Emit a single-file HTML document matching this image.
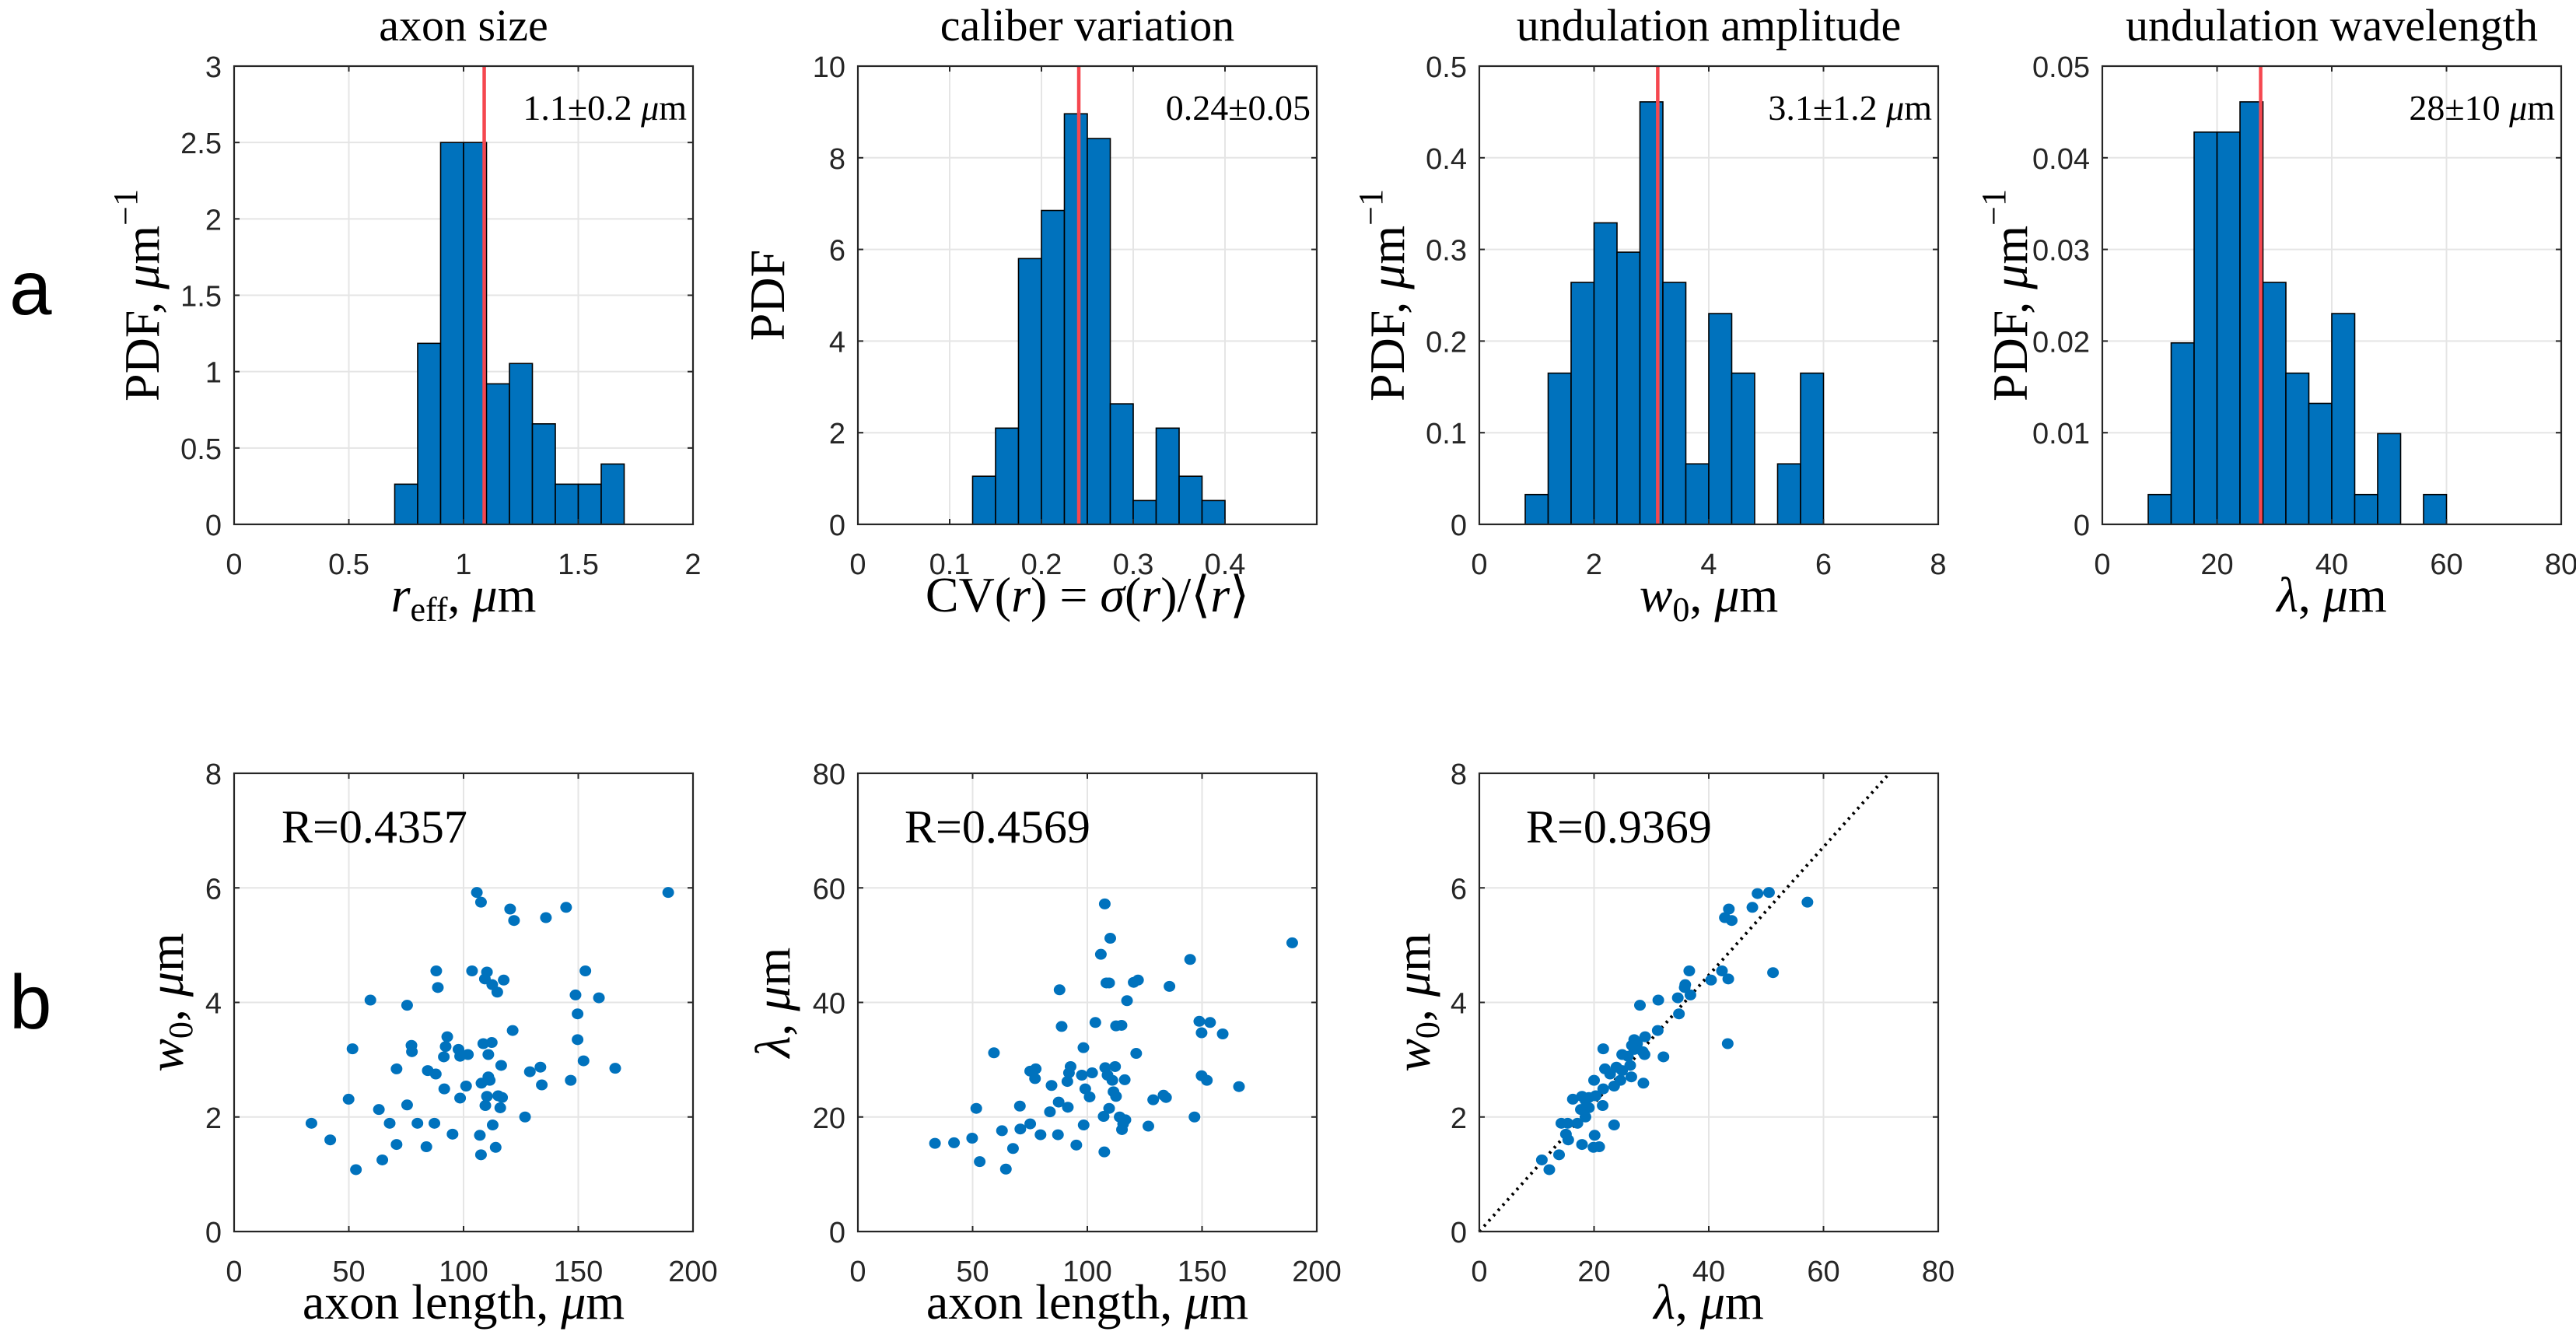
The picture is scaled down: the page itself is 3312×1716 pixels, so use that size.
<!DOCTYPE html>
<html>
<head>
<meta charset="utf-8">
<style>
  html, body { margin: 0; padding: 0; background: #ffffff; }
  svg { display: block; }
  .tick { font-family: "Liberation Sans", Arial, sans-serif; font-size: 38px; fill: #262626; }
  .serif { font-family: "Liberation Serif", "DejaVu Serif", serif; fill: #000; }
  .plabel { font-family: "Liberation Sans", Arial, sans-serif; font-size: 98px; fill: #000; }
</style>
</head>
<body>
<svg id="fig" xmlns="http://www.w3.org/2000/svg" width="3312" height="1716" viewBox="0 0 3312 1716">
  <rect x="0" y="0" width="3312" height="1716" fill="#ffffff"/>
  <text class="plabel" x="12" y="404">a</text>
  <text class="plabel" x="12" y="1322">b</text>
</svg>
<script>
// ---------- DATA ----------
const a1XTicks = [0, 0.5, 1, 1.5, 2];
const a1XTickLabels = ['0', '0.5', '1', '1.5', '2'];
const a1YTicks = [0, 0.5, 1, 1.5, 2, 2.5, 3];
const a1YTickLabels = ['0', '0.5', '1', '1.5', '2', '2.5', '3'];
const a1BinStart = 0.7;
const a1BinWidth = 0.1;
const a1Heights = [0.263, 1.185, 2.5, 2.5, 0.92, 1.053, 0.658, 0.263, 0.263, 0.395];
const a1Mean = 1.09;

const a2XTicks = [0, 0.1, 0.2, 0.3, 0.4];
const a2XTickLabels = ['0', '0.1', '0.2', '0.3', '0.4'];
const a2YTicks = [0, 2, 4, 6, 8, 10];
const a2YTickLabels = ['0', '2', '4', '6', '8', '10'];
const a2BinStart = 0.125;
const a2BinWidth = 0.025;
const a2Heights = [1.05, 2.1, 5.8, 6.85, 8.96, 8.42, 2.63, 0.52, 2.1, 1.05, 0.52];
const a2Mean = 0.2407;

const a3XTicks = [0, 2, 4, 6, 8];
const a3XTickLabels = ['0', '2', '4', '6', '8'];
const a3YTicks = [0, 0.1, 0.2, 0.3, 0.4, 0.5];
const a3YTickLabels = ['0', '0.1', '0.2', '0.3', '0.4', '0.5'];
const a3BinStart = 0.8;
const a3BinWidth = 0.4;
const a3Heights = [0.0325, 0.165, 0.264, 0.329, 0.297, 0.461, 0.264, 0.066, 0.230, 0.165, 0, 0.066, 0.165];
const a3Mean = 3.11;

const a4XTicks = [0, 20, 40, 60, 80];
const a4XTickLabels = ['0', '20', '40', '60', '80'];
const a4YTicks = [0, 0.01, 0.02, 0.03, 0.04, 0.05];
const a4YTickLabels = ['0', '0.01', '0.02', '0.03', '0.04', '0.05'];
const a4BinStart = 8;
const a4BinWidth = 4;
const a4Heights = [0.00325, 0.0198, 0.0428, 0.0428, 0.0461, 0.0264, 0.0165, 0.0132, 0.0230, 0.00325, 0.0099, 0, 0.00325];
const a4Mean = 27.6;

const b1XTicks = [0, 50, 100, 150, 200];
const b1XTickLabels = ['0', '50', '100', '150', '200'];
const b1YTicks = [0, 2, 4, 6, 8];
const b1YTickLabels = ['0', '2', '4', '6', '8'];
const b1Length = [105.8,107.6,120.3,122,135.9,144.7,189.2,88.1,103.7,110.2,109.3,112.5,114.7,117.5,88.8,153.1,59.4,75.4,148.8,159,149.7,121.4,51.6,77.3,77.5,92.9,92.2,91.4,97.8,98.5,101.9,108.6,112.3,110.8,149.7,152.3,116.4,133.5,128.9,166.1,70.8,84.4,87.9,110.8,111.4,107.8,134.1,146.7,101.1,91.6,49.9,98.5,110.2,115.1,116.8,109.5,116,75.4,63.1,126.8,33.7,67.8,79.9,87.3,112.7,95.2,107.1,41.9,70.8,83.8,114,107.6,64.6,53.1];
const b1W0 = [5.92,5.75,5.63,5.43,5.48,5.66,5.92,4.55,4.55,4.53,4.41,4.31,4.18,4.39,4.26,4.55,4.04,3.95,4.13,4.08,3.80,3.51,3.19,3.25,3.14,3.40,3.23,3.05,3.18,3.06,3.09,3.28,3.30,3.09,3.35,2.98,2.90,2.87,2.79,2.85,2.84,2.81,2.75,2.70,2.64,2.59,2.56,2.64,2.54,2.49,2.31,2.33,2.36,2.37,2.34,2.20,2.16,2.21,2.13,2.00,1.89,1.89,1.89,1.89,1.86,1.70,1.68,1.60,1.52,1.48,1.47,1.34,1.25,1.08];
const b1RText = 'R=0.4357';

const b2XTicks = [0, 50, 100, 150, 200];
const b2XTickLabels = ['0', '50', '100', '150', '200'];
const b2YTicks = [0, 20, 40, 60, 80];
const b2YTickLabels = ['0', '20', '40', '60', '80'];
const b2Length = [107.6,110,105.9,189.3,144.8,87.9,108.3,109.5,120.2,122.1,135.8,117.3,88.8,103.5,112.5,114.9,148.8,153.5,149.8,159,59.3,98.3,121.3,75.1,77.5,77.2,92.7,92,91.3,97.6,102.1,107.8,112.1,108.8,110.9,116.3,84.4,99.1,101,111.4,112.5,149.8,152.1,166.1,128.7,133.2,134.3,87.5,91.5,51.6,70.6,83.7,109.5,107.1,114.1,116.6,115.6,115.1,146.7,126.6,98.4,75.1,70.8,62.8,79.6,87.2,49.8,33.6,41.9,95.2,67.6,107.4,53.1,64.5];
const b2Lambda = [57.2,51.2,48.4,50.4,47.5,42.2,43.4,43.4,43.5,43.9,42.8,40.3,35.8,36.5,35.9,36.0,36.7,36.5,34.7,34.5,31.2,32.1,31.1,28.0,28.4,26.7,28.8,27.7,26.2,27.3,27.7,28.6,28.8,27.3,26.4,26.5,25.5,24.9,23.5,24.4,23.6,27.2,26.4,25.3,23.0,23.8,23.4,22.6,21.7,21.5,21.9,20.9,21.5,20.1,20.0,19.5,18.8,17.8,20.0,18.4,18.6,18.8,17.9,17.6,16.9,16.9,16.3,15.4,15.5,15.1,14.5,13.9,12.2,10.9];
const b2RText = 'R=0.4569';

const b3XTicks = [0, 20, 40, 60, 80];
const b3XTickLabels = ['0', '20', '40', '60', '80'];
const b3YTicks = [0, 2, 4, 6, 8];
const b3YTickLabels = ['0', '2', '4', '6', '8'];
const b3Lambda = [48.5,50.5,57.2,47.6,43.5,42.8,44,36.6,42.3,51.2,43.4,40.4,35.9,35.8,36.8,34.6,31.2,28,34.8,31.1,28.9,27,26.6,27.5,21.6,28.5,24.9,28.8,32.1,27,25.9,23.9,21.9,26.3,22.8,24.9,26.5,24.6,20,28.6,23.5,21.6,20.3,17.9,19.1,16.3,18.5,21.5,17.7,19.1,18.5,14.3,15.4,17.1,23.5,15.1,20.1,15.5,17.9,19.9,20.9,13.9,10.9,12.2,43.3];
const b3W0 = [5.90,5.92,5.75,5.66,5.63,5.48,5.43,4.55,4.55,4.52,4.41,4.39,4.31,4.26,4.13,4.08,4.04,3.95,3.80,3.51,3.40,3.35,3.25,3.28,3.19,3.14,3.09,3.09,3.05,3.18,3.06,2.87,2.84,2.90,2.75,2.81,2.70,2.64,2.64,2.59,2.54,2.49,2.37,2.36,2.34,2.31,2.29,2.20,2.13,2.16,2.00,1.89,1.89,1.89,1.86,1.70,1.68,1.60,1.52,1.47,1.48,1.34,1.25,1.08,3.28];
const b3FitSlope = 0.1119;
const b3RText = 'R=0.9369';

// ---------- DRAWING ----------
const SVGNS = 'http://www.w3.org/2000/svg';
const svg = document.getElementById('fig');
const PW = 590, PH = 589;
const BLUE = '#0072BD';
const RED = '#F5474F';
const AXC = '#262626';
const GRID = '#e5e5e5';

function mk(tag, attrs, parent) {
  const e = document.createElementNS(SVGNS, tag);
  for (const k in attrs) e.setAttribute(k, attrs[k]);
  (parent || svg).appendChild(e);
  return e;
}

function makeAxes(name, left, top, xmin, xmax, ymin, ymax, xTicks, xLabels, yTicks, yLabels, tickLabelY) {
  const g = mk('g', {});
  
  
  const sx = v => left + (v - xmin) / (xmax - xmin) * PW;
  const sy = v => top + PH - (v - ymin) / (ymax - ymin) * PH;
  xTicks.forEach(t => {
    const l = mk('line', { x1: sx(t), x2: sx(t), y1: top, y2: top + PH, stroke: GRID, 'stroke-width': 2 }, g);
    
    
  });
  yTicks.forEach(t => {
    const l = mk('line', { x1: left, x2: left + PW, y1: sy(t), y2: sy(t), stroke: GRID, 'stroke-width': 2 }, g);
    
    
  });
  const plot = mk('g', {}, g);
  
  
  const front = mk('g', {}, g);
  
  
  const box = mk('rect', { x: left, y: top, width: PW, height: PH, fill: 'none', stroke: AXC, 'stroke-width': 2.2 }, front);
  
  
  xTicks.forEach((t, i) => {
    mk('line', { x1: sx(t), x2: sx(t), y1: top + PH, y2: top + PH - 7, stroke: AXC, 'stroke-width': 2 }, front);
    mk('line', { x1: sx(t), x2: sx(t), y1: top, y2: top + 7, stroke: AXC, 'stroke-width': 2 }, front);
    const tx = mk('text', { x: sx(t), y: tickLabelY, 'text-anchor': 'middle', class: 'tick' }, front);
    tx.textContent = xLabels[i];
    
    
  });
  yTicks.forEach((t, i) => {
    mk('line', { x1: left, x2: left + 7, y1: sy(t), y2: sy(t), stroke: AXC, 'stroke-width': 2 }, front);
    mk('line', { x1: left + PW, x2: left + PW - 7, y1: sy(t), y2: sy(t), stroke: AXC, 'stroke-width': 2 }, front);
    const ty = mk('text', { x: left - 16, y: sy(t) + 14, 'text-anchor': 'end', class: 'tick' }, front);
    ty.textContent = yLabels[i];
    
    
  });
  return { sx, sy, plot, front, g };
}

function drawHist(ax, binStart, binWidth, heights, mean, top) {
  heights.forEach((h, i) => {
    if (h <= 0) return;
    const x0 = ax.sx(binStart + i * binWidth), x1 = ax.sx(binStart + (i + 1) * binWidth);
    const r = mk('rect', { x: x0, y: ax.sy(h), width: x1 - x0, height: ax.sy(0) - ax.sy(h), fill: BLUE, stroke: '#000', 'stroke-width': 1.6 }, ax.plot);
    
    
  });
  const m = mk('line', { x1: ax.sx(mean), x2: ax.sx(mean), y1: top, y2: top + PH, stroke: RED, 'stroke-width': 4.5 }, ax.plot);
  
  
}

function drawScatter(ax, xs, ys) {
  xs.forEach((x, i) => {
    const c = mk('ellipse', { cx: ax.sx(x), cy: ax.sy(ys[i]), rx: 7.5, ry: 7, fill: BLUE }, ax.plot);
    
    
  });
}

function textEl(name, attrs, html) {
  const t = mk('text', attrs);
  t.innerHTML = html;
  
  
  return t;
}

const colX = [301, 1103, 1902, 2703];
const topY = 85, botY = 994;
const topTickY = 738, botTickY = 1647;
const topXTitleY = 786, botXTitleY = 1695;

const titles = ['axon size', 'caliber variation', 'undulation amplitude', 'undulation wavelength'];
titles.forEach((s, i) => {
  textEl('panel-title', { x: colX[i] + PW / 2, y: 52, 'text-anchor': 'middle', class: 'serif', 'font-size': 58 }, s);
});

const MU = '<tspan font-style="italic">μ</tspan>m';

const ax1 = makeAxes('axon-size-histogram', colX[0], topY, 0, 2, 0, 3, a1XTicks, a1XTickLabels, a1YTicks, a1YTickLabels, topTickY);
drawHist(ax1, a1BinStart, a1BinWidth, a1Heights, a1Mean, topY);
textEl('mean-annotation', { x: colX[0] + PW - 8, y: 154, 'text-anchor': 'end', class: 'serif', 'font-size': 46 }, '1.1±0.2 ' + MU);
textEl('x-axis-title', { x: colX[0] + PW / 2, y: topXTitleY, 'text-anchor': 'middle', class: 'serif', 'font-size': 64 },
  '<tspan font-style="italic">r</tspan><tspan font-size="44" dy="12">eff</tspan><tspan dy="-12">, </tspan>' + MU);
textEl('y-axis-title', { x: 0, y: 0, 'text-anchor': 'middle', class: 'serif', 'font-size': 64, transform: `translate(${colX[0] - 97},${topY + PH / 2}) rotate(-90)` },
  'PDF, ' + MU + '<tspan font-size="44" dy="-28">−1</tspan>');

const ax2 = makeAxes('caliber-variation-histogram', colX[1], topY, 0, 0.5, 0, 10, a2XTicks, a2XTickLabels, a2YTicks, a2YTickLabels, topTickY);
drawHist(ax2, a2BinStart, a2BinWidth, a2Heights, a2Mean, topY);
textEl('mean-annotation', { x: colX[1] + PW - 8, y: 154, 'text-anchor': 'end', class: 'serif', 'font-size': 46 }, '0.24±0.05');
textEl('x-axis-title', { x: colX[1] + PW / 2, y: topXTitleY, 'text-anchor': 'middle', class: 'serif', 'font-size': 64 },
  'CV(<tspan font-style="italic">r</tspan>) = <tspan font-style="italic">σ</tspan>(<tspan font-style="italic">r</tspan>)/⟨<tspan font-style="italic">r</tspan>⟩');
textEl('y-axis-title', { x: 0, y: 0, 'text-anchor': 'middle', class: 'serif', 'font-size': 64, transform: `translate(${colX[1] - 95},${topY + PH / 2}) rotate(-90)` }, 'PDF');

const ax3 = makeAxes('undulation-amplitude-histogram', colX[2], topY, 0, 8, 0, 0.5, a3XTicks, a3XTickLabels, a3YTicks, a3YTickLabels, topTickY);
drawHist(ax3, a3BinStart, a3BinWidth, a3Heights, a3Mean, topY);
textEl('mean-annotation', { x: colX[2] + PW - 8, y: 154, 'text-anchor': 'end', class: 'serif', 'font-size': 46 }, '3.1±1.2 ' + MU);
textEl('x-axis-title', { x: colX[2] + PW / 2, y: topXTitleY, 'text-anchor': 'middle', class: 'serif', 'font-size': 64 },
  '<tspan font-style="italic">w</tspan><tspan font-size="44" dy="12">0</tspan><tspan dy="-12">, </tspan>' + MU);
textEl('y-axis-title', { x: 0, y: 0, 'text-anchor': 'middle', class: 'serif', 'font-size': 64, transform: `translate(${colX[2] - 97},${topY + PH / 2}) rotate(-90)` },
  'PDF, ' + MU + '<tspan font-size="44" dy="-28">−1</tspan>');

const ax4 = makeAxes('undulation-wavelength-histogram', colX[3], topY, 0, 80, 0, 0.05, a4XTicks, a4XTickLabels, a4YTicks, a4YTickLabels, topTickY);
drawHist(ax4, a4BinStart, a4BinWidth, a4Heights, a4Mean, topY);
textEl('mean-annotation', { x: colX[3] + PW - 8, y: 154, 'text-anchor': 'end', class: 'serif', 'font-size': 46 }, '28±10 ' + MU);
textEl('x-axis-title', { x: colX[3] + PW / 2, y: topXTitleY, 'text-anchor': 'middle', class: 'serif', 'font-size': 64 },
  '<tspan font-style="italic">λ</tspan>, ' + MU);
textEl('y-axis-title', { x: 0, y: 0, 'text-anchor': 'middle', class: 'serif', 'font-size': 64, transform: `translate(${colX[3] - 97},${topY + PH / 2}) rotate(-90)` },
  'PDF, ' + MU + '<tspan font-size="44" dy="-28">−1</tspan>');

const bx1 = makeAxes('length-vs-amplitude-scatter', colX[0], botY, 0, 200, 0, 8, b1XTicks, b1XTickLabels, b1YTicks, b1YTickLabels, botTickY);
drawScatter(bx1, b1Length, b1W0);
textEl('correlation-annotation', { x: 362, y: 1083, class: 'serif', 'font-size': 60 }, b1RText);
textEl('x-axis-title', { x: colX[0] + PW / 2, y: botXTitleY, 'text-anchor': 'middle', class: 'serif', 'font-size': 64 }, 'axon length, ' + MU);
textEl('y-axis-title', { x: 0, y: 0, 'text-anchor': 'middle', class: 'serif', 'font-size': 64, transform: `translate(${colX[0] - 66},${botY + PH / 2}) rotate(-90)` },
  '<tspan font-style="italic">w</tspan><tspan font-size="44" dy="12">0</tspan><tspan dy="-12">, </tspan>' + MU);

const bx2 = makeAxes('length-vs-wavelength-scatter', colX[1], botY, 0, 200, 0, 80, b2XTicks, b2XTickLabels, b2YTicks, b2YTickLabels, botTickY);
drawScatter(bx2, b2Length, b2Lambda);
textEl('correlation-annotation', { x: 1163, y: 1083, class: 'serif', 'font-size': 60 }, b2RText);
textEl('x-axis-title', { x: colX[1] + PW / 2, y: botXTitleY, 'text-anchor': 'middle', class: 'serif', 'font-size': 64 }, 'axon length, ' + MU);
textEl('y-axis-title', { x: 0, y: 0, 'text-anchor': 'middle', class: 'serif', 'font-size': 64, transform: `translate(${colX[1] - 88},${botY + PH / 2}) rotate(-90)` },
  '<tspan font-style="italic">λ</tspan>, ' + MU);

const bx3 = makeAxes('wavelength-vs-amplitude-scatter', colX[2], botY, 0, 80, 0, 8, b3XTicks, b3XTickLabels, b3YTicks, b3YTickLabels, botTickY);
const fitEnd = 8 / b3FitSlope;
const fit = mk('line', { x1: bx3.sx(0), y1: bx3.sy(0), x2: bx3.sx(fitEnd), y2: bx3.sy(fitEnd * b3FitSlope), stroke: '#000', 'stroke-width': 4, 'stroke-dasharray': '3 6' }, bx3.plot);


drawScatter(bx3, b3Lambda, b3W0);
textEl('correlation-annotation', { x: 1962, y: 1083, class: 'serif', 'font-size': 60 }, b3RText);
textEl('x-axis-title', { x: colX[2] + PW / 2, y: botXTitleY, 'text-anchor': 'middle', class: 'serif', 'font-size': 64 },
  '<tspan font-style="italic">λ</tspan>, ' + MU);
textEl('y-axis-title', { x: 0, y: 0, 'text-anchor': 'middle', class: 'serif', 'font-size': 64, transform: `translate(${colX[2] - 64},${botY + PH / 2}) rotate(-90)` },
  '<tspan font-style="italic">w</tspan><tspan font-size="44" dy="12">0</tspan><tspan dy="-12">, </tspan>' + MU);
</script>
</body>
</html>
